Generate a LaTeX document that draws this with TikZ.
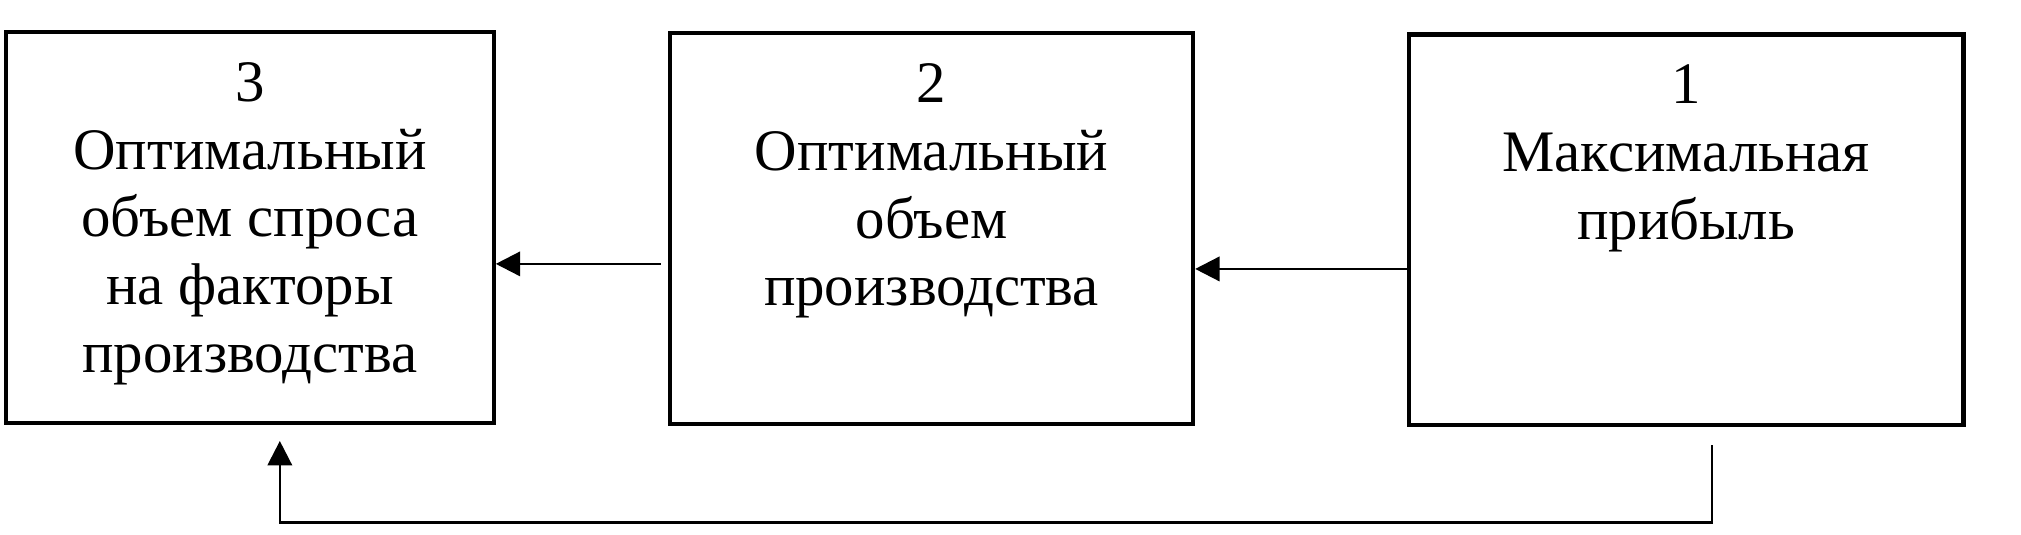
\documentclass[tikz,border=0pt]{standalone}
\usepackage{fontspec}
\setmainfont{Liberation Serif}
\usetikzlibrary{positioning,arrows.meta,calc}

\begin{document}
\begin{tikzpicture}[
    box/.style={draw, line width=1pt, minimum width=#1, minimum height=93pt, inner sep=0pt},
    txt/.style={align=center, inner sep=0pt, font=\fontsize{14}{16.1}\selectfont},
    arr/.style={line width=0.6pt, -{Triangle[length=5.8pt,width=5.8pt]}}
]
    \useasboundingbox (0,0) rectangle (481pt,-127.1pt);

    % boxes
    \node [box=116pt] (b3) at (59.5pt,-54.1pt) {};
    \node [box=124.5pt] (b2) at (221.7pt,-54.4pt) {};
    \node [box=132pt] (b1) at (401.3pt,-54.7pt) {};

    % texts
    \node [txt, below=7.6pt of b3.north] (t3) {3\\Оптимальный\\объем спроса\\на факторы\\производства};
    \node [txt, below=7.6pt of b2.north] (t2) {2\\Оптимальный\\объем\\производства};
    \node [txt, below=7.6pt of b1.north] (t1) {1\\Максимальная\\прибыль};

    % arrows
    \draw [arr] ([xshift=-1.7pt,yshift=-8.4pt]b2.west) coordinate (a2) -- (b3.east |- a2);
    \draw [arr] ([yshift=-9.3pt]b1.west) coordinate (a1) -- (b2.east |- a1);

    % feedback line 1 -> 3
    \coordinate (c1) at ([xshift=6.2pt,yshift=-4.3pt]b1.south);
    \coordinate (c3) at ([xshift=7.1pt,yshift=-3.85pt]b3.south);
    \draw [arr] (c1) -- ++(0,-18.4pt) -| (c3);
\end{tikzpicture}
\end{document}
